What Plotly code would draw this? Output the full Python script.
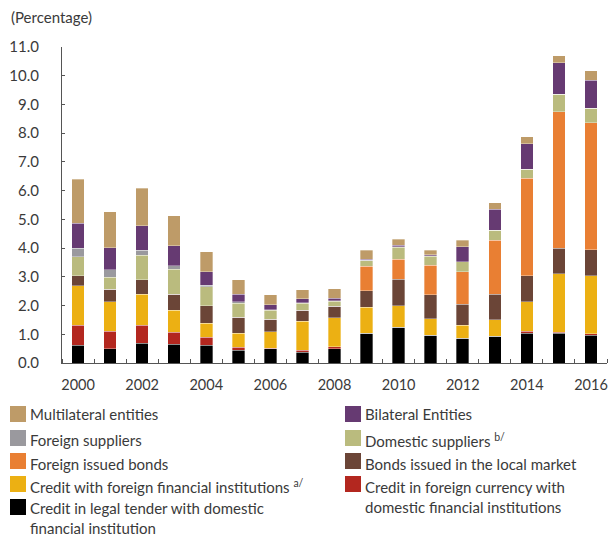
import plotly.graph_objects as go

years = list(range(2000, 2017))

legal_tender_domestic = [0.62, 0.50, 0.68, 0.65, 0.61, 0.45, 0.49, 0.38, 0.50, 1.04, 1.25, 0.96, 0.87, 0.94, 1.03, 1.04, 0.96]
foreign_currency_domestic = [0.70, 0.61, 0.64, 0.42, 0.29, 0.09, 0.03, 0.06, 0.06, 0.00, 0.00, 0.00, 0.00, 0.00, 0.07, 0.03, 0.05]
credit_foreign_fi = [1.37, 1.03, 1.08, 0.77, 0.48, 0.49, 0.56, 1.02, 1.02, 0.90, 0.74, 0.58, 0.45, 0.57, 1.04, 2.03, 2.02]
bonds_local = [0.34, 0.42, 0.49, 0.55, 0.61, 0.57, 0.45, 0.37, 0.39, 0.58, 0.92, 0.84, 0.73, 0.88, 0.89, 0.90, 0.92]
bonds_foreign = [0, 0, 0, 0, 0, 0, 0, 0, 0, 0.84, 0.71, 1.03, 1.13, 1.88, 3.41, 4.75, 4.41]
domestic_suppliers = [0.67, 0.43, 0.86, 0.87, 0.66, 0.48, 0.30, 0.25, 0.18, 0.20, 0.41, 0.30, 0.35, 0.35, 0.31, 0.61, 0.50]
foreign_suppliers = [0.29, 0.26, 0.18, 0.13, 0.05, 0.05, 0.03, 0.02, 0.02, 0.02, 0.02, 0.02, 0, 0, 0, 0, 0]
bilateral = [0.87, 0.77, 0.85, 0.70, 0.47, 0.26, 0.16, 0.13, 0.09, 0.04, 0.05, 0.03, 0.52, 0.74, 0.88, 1.10, 0.99]
multilateral = [1.54, 1.24, 1.31, 1.04, 0.71, 0.50, 0.36, 0.32, 0.32, 0.31, 0.21, 0.17, 0.22, 0.22, 0.24, 0.23, 0.32]

year_ticks = [2000, 2002, 2004, 2006, 2008, 2010, 2012, 2014, 2016]
y_ticks = [0, 1, 2, 3, 4, 5, 6, 7, 8, 9, 10, 11]

# (name, values, colour) bottom to top
series = [
    ("Credit in legal tender with domestic<br>financial institution", legal_tender_domestic, "#000000"),
    ("Credit in foreign currency with<br>domestic financial institutions", foreign_currency_domestic, "#B3271F"),
    ("Credit with foreign financial institutions <sup>a/</sup>", credit_foreign_fi, "#ECB013"),
    ("Bonds issued in the local market", bonds_local, "#6B4537"),
    ("Foreign issued bonds", bonds_foreign, "#E97F33"),
    ("Domestic suppliers <sup>b/</sup>", domestic_suppliers, "#BABB7E"),
    ("Foreign suppliers", foreign_suppliers, "#9A999E"),
    ("Bilateral Entities", bilateral, "#663A72"),
    ("Multilateral entities", multilateral, "#BE9B68"),
]

W, H = 608, 535
ML, MR, MT, MB = 62, 1, 47, 172
PW, PH = W - ML - MR, H - MT - MB

def px_x(px):
    return (px - ML) / PW

def px_y(py):
    return (H - MB - py) / PH

FONT = "Lato"
TXT = "#3a3a3a"
LEG_SIZE = 15

fig = go.Figure()
for name, vals, col in series:
    fig.add_trace(go.Bar(
        x=years, y=vals, name=name, width=0.39,
        marker=dict(color=col, line=dict(color="rgba(255,255,255,0.55)", width=0.6)),
        showlegend=False,
    ))

# custom two-column legend: swatch x, swatch centre y, text centre y (pixels)
legend_layout = {
    "Multilateral entities": (10, 414, 414),
    "Bilateral Entities": (345, 414, 414),
    "Foreign suppliers": (10, 438, 440),
    "Domestic suppliers <sup>b/</sup>": (345, 438, 440),
    "Foreign issued bonds": (10, 461, 464),
    "Bonds issued in the local market": (345, 461, 464),
    "Credit with foreign financial institutions <sup>a/</sup>": (10, 484, 487),
    "Credit in foreign currency with<br>domestic financial institutions": (345, 484, 497),
    "Credit in legal tender with domestic<br>financial institution": (10, 507, 518),
}
shapes = []
annotations = []
for name, vals, col in series:
    sx, sy, ty = legend_layout[name]
    shapes.append(dict(type="rect", xref="paper", yref="paper",
                       x0=px_x(sx), x1=px_x(sx + 16), y0=px_y(sy - 8), y1=px_y(sy + 8),
                       fillcolor=col, line=dict(width=0)))
    annotations.append(dict(text=name, xref="paper", yref="paper",
                            x=px_x(sx + 18), y=px_y(ty), xanchor="left", yanchor="middle",
                            align="left", showarrow=False,
                            font=dict(family=FONT, size=LEG_SIZE, color=TXT)))

annotations.append(dict(text="(Percentage)", xref="paper", yref="paper",
                        x=px_x(9), y=px_y(17), xanchor="left", yanchor="middle",
                        showarrow=False, font=dict(family=FONT, size=15, color=TXT)))

fig.update_layout(
    width=W, height=H,
    margin=dict(l=ML, r=MR, t=MT, b=MB, pad=0),
    barmode="stack",
    plot_bgcolor="white", paper_bgcolor="white",
    font=dict(family=FONT, size=15, color=TXT),
    shapes=shapes, annotations=annotations,
    xaxis=dict(
        range=[1999.5, 2016.5], tickmode="array", tickvals=year_ticks,
        ticktext=[str(y) for y in year_ticks], ticks="",
        showline=True, linecolor="#555555", linewidth=1.2,
        showgrid=False, zeroline=False, ticklabelstandoff=8,
        ticklabeloverflow="allow", tickfont=dict(size=14.5),
        minor=dict(tick0=1999.5, dtick=1, ticks="inside", ticklen=4, tickcolor="#555555", showgrid=False),
    ),
    yaxis=dict(
        range=[0, 11], tickmode="array", tickvals=y_ticks, tickformat=".1f",
        ticks="inside", ticklen=3, tickcolor="#555555",
        showline=True, linecolor="#555555", linewidth=1.2,
        showgrid=False, zeroline=False, ticklabelstandoff=19,
    ),
)

fig.write_html("out.html",
               config={"displayModeBar": False},
               post_script="document.body.style.margin='0px';document.body.style.overflow='hidden';")
